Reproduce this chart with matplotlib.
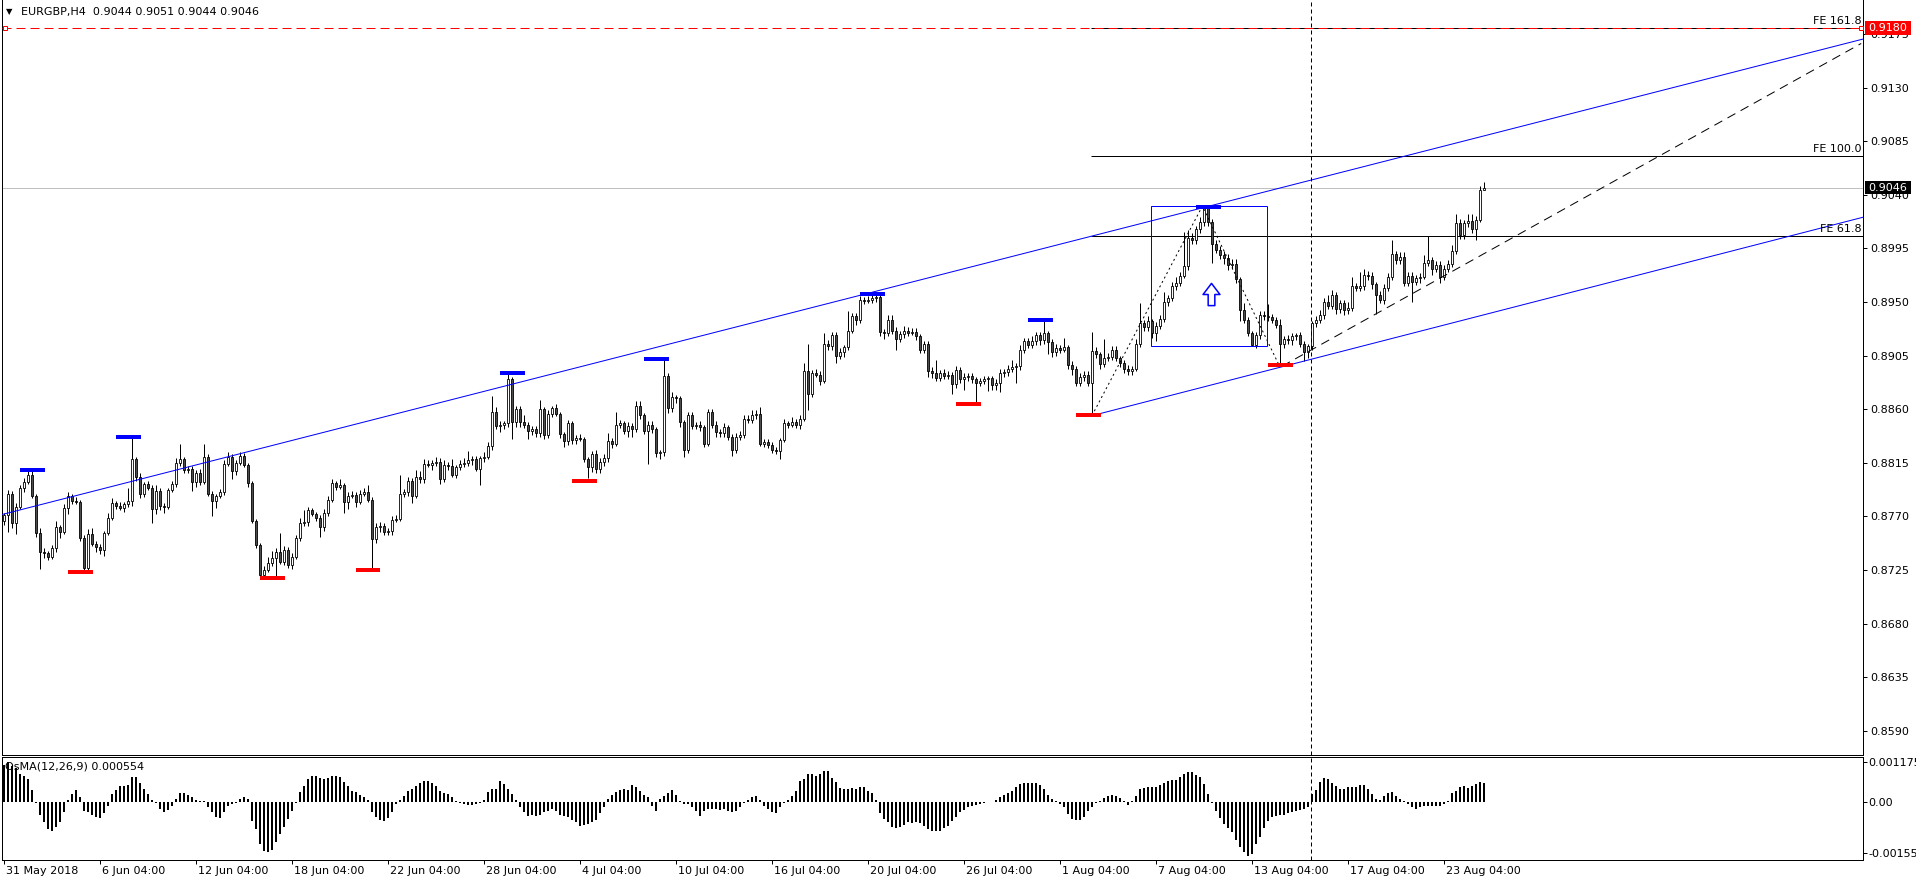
import matplotlib
matplotlib.use("Agg")
import matplotlib.pyplot as plt
import matplotlib.transforms as mtransforms
from matplotlib.patches import Rectangle
from matplotlib.path import Path
import numpy as np

plt.rcParams['font.family'] = ['DejaVu Sans']
plt.rcParams['font.size'] = 8
plt.rcParams['lines.scale_dashes'] = False

W, H = 1916, 884
PX = 0.72  # one pixel in points at dpi 100

########################
# Data (EURGBP H4, closes in 1/10000)
########################
closes = [
    8771, 8789, 8764, 8778, 8794, 8799, 8805, 8787, 8756, 8740,
    8739, 8736, 8743, 8761, 8757, 8777, 8787, 8783, 8782, 8752,
    8727, 8755, 8747, 8744, 8742, 8756, 8769, 8781, 8779, 8777,
    8780, 8783, 8818, 8803, 8789, 8797, 8794, 8776, 8791, 8779,
    8778, 8792, 8797, 8815, 8818, 8809, 8810, 8799, 8806, 8799,
    8820, 8789, 8783, 8787, 8790, 8814, 8820, 8808, 8815, 8821,
    8813, 8798, 8766, 8746, 8721, 8725, 8731, 8735, 8740, 8732,
    8742, 8729, 8736, 8752, 8764, 8765, 8775, 8772, 8769, 8761,
    8773, 8784, 8798, 8795, 8796, 8782, 8787, 8788, 8782, 8789,
    8790, 8784, 8751, 8761, 8762, 8757, 8758, 8767, 8768, 8789,
    8790, 8800, 8787, 8803, 8801, 8814, 8813, 8815, 8816, 8801,
    8813, 8812, 8805, 8811, 8814, 8815, 8817, 8818, 8810, 8819,
    8820, 8829, 8858, 8846, 8847, 8848, 8885, 8849, 8860, 8849,
    8847, 8842, 8843, 8840, 8860, 8838, 8856, 8861, 8856, 8839,
    8833, 8848, 8834, 8836, 8835, 8818, 8811, 8822, 8810, 8816,
    8819, 8833, 8831, 8847, 8848, 8842, 8846, 8843, 8863, 8855,
    8842, 8847, 8843, 8823, 8824, 8888, 8861, 8870, 8869, 8849,
    8826, 8855, 8846, 8847, 8845, 8831, 8858, 8847, 8841, 8840,
    8845, 8837, 8826, 8837, 8838, 8852, 8851, 8855, 8856, 8831,
    8832, 8830, 8826, 8825, 8834, 8848, 8847, 8849, 8847, 8852,
    8892, 8873, 8890, 8889, 8884, 8915, 8913, 8922, 8905, 8908,
    8912, 8926, 8938, 8935, 8952, 8951, 8952, 8953, 8954, 8925,
    8924, 8935, 8926, 8919, 8923, 8926, 8924, 8925, 8921, 8910,
    8915, 8892, 8890, 8886, 8890, 8888, 8889, 8881, 8893, 8885,
    8887, 8888, 8885, 8882, 8884, 8885, 8886, 8880, 8882, 8890,
    8891, 8894, 8895, 8896, 8910, 8917, 8914, 8917, 8922, 8918,
    8924, 8916, 8908, 8911, 8910, 8912, 8897, 8894, 8882, 8887,
    8889, 8882, 8909, 8906, 8898, 8903, 8904, 8910, 8903, 8899,
    8894, 8892, 8894, 8915, 8932, 8929, 8934, 8924, 8930, 8936,
    8950, 8953, 8963, 8966, 8972, 8980, 9004, 9002, 9011, 9017,
    9029, 9017, 8999, 8994, 8989, 8987, 8981, 8982, 8969, 8943,
    8935, 8924, 8914, 8922, 8939, 8938, 8937, 8935, 8931, 8915,
    8919, 8918, 8921, 8922, 8915, 8908, 8913, 8932, 8935, 8939,
    8950, 8947, 8956, 8944, 8949, 8943, 8945, 8963, 8962, 8963,
    8973, 8972, 8965, 8956, 8952, 8962, 8971, 8990, 8985, 8988,
    8966, 8972, 8967, 8970, 8971, 8983, 8985, 8978, 8981, 8971,
    8978, 8982, 8993, 9016, 9006, 9016, 9018, 9011, 9019, 9044,
    9046,
]
first_open = 8766

# wick lengths above / below the body, in pips
upper_wick = [
    2, 3, 2, 3, 2, 3, 3, 4, 2, 4,
    3, 2, 3, 5, 2, 3, 3, 2, 3, 2,
    2, 4, 5, 2, 3, 2, 4, 4, 2, 3,
    2, 11, 18, 2, 3, 2, 3, 2, 5, 3,
    2, 2, 3, 4, 13, 2, 2, 2, 3, 4,
    11, 2, 2, 2, 3, 3, 4, 2, 2, 3,
    2, 2, 2, 2, 2, 3, 5, 6, 3, 16,
    3, 2, 3, 2, 5, 10, 3, 2, 2, 2,
    3, 3, 3, 2, 5, 2, 3, 3, 2, 3,
    4, 6, 2, 3, 3, 2, 2, 3, 3, 16,
    3, 3, 2, 6, 5, 4, 3, 2, 4, 3,
    4, 3, 6, 2, 3, 4, 8, 3, 3, 2,
    4, 3, 13, 4, 3, 2, 5, 2, 3, 3,
    6, 2, 3, 3, 8, 2, 3, 2, 3, 2,
    2, 3, 2, 2, 3, 2, 2, 3, 4, 3,
    3, 7, 3, 11, 3, 2, 3, 2, 4, 4,
    2, 3, 3, 2, 2, 13, 2, 4, 2, 2,
    2, 3, 3, 2, 3, 2, 2, 2, 3, 2,
    3, 2, 2, 3, 4, 3, 3, 4, 3, 6,
    3, 3, 2, 2, 2, 4, 2, 4, 3, 3,
    7, 23, 3, 4, 3, 9, 3, 3, 3, 3,
    2, 16, 3, 3, 3, 2, 3, 3, 3, 2,
    2, 4, 4, 3, 3, 4, 3, 3, 3, 2,
    2, 2, 3, 11, 3, 4, 3, 2, 3, 2,
    3, 2, 2, 2, 2, 3, 2, 2, 3, 4,
    3, 3, 6, 3, 4, 3, 3, 4, 3, 3,
    12, 2, 3, 4, 3, 8, 2, 3, 2, 3,
    3, 3, 16, 3, 2, 16, 3, 3, 3, 2,
    2, 3, 2, 4, 17, 3, 4, 2, 3, 3,
    8, 3, 4, 5, 3, 29, 6, 4, 3, 4,
    1, 2, 3, 3, 3, 4, 3, 4, 4, 2,
    6, 2, 2, 3, 3, 3, 10, 3, 2, 5,
    2, 3, 3, 2, 3, 2, 2, 2, 3, 4,
    3, 6, 4, 2, 3, 3, 5, 8, 3, 12,
    5, 3, 3, 2, 3, 3, 3, 12, 3, 4,
    4, 3, 3, 3, 3, 6, 20, 3, 3, 3,
    3, 3, 5, 8, 4, 3, 6, 6, 3, 3,
    5,
]
lower_wick = [
    3, 14, 4, 9, 2, 4, 2, 2, 3, 14,
    4, 3, 2, 3, 5, 2, 5, 3, 2, 3,
    2, 2, 2, 4, 4, 5, 2, 2, 3, 2,
    3, 2, 4, 3, 4, 3, 2, 12, 4, 4,
    5, 2, 2, 2, 3, 3, 3, 8, 4, 3,
    2, 2, 13, 6, 2, 2, 2, 7, 3, 2,
    2, 3, 2, 3, 2, 3, 2, 3, 15, 2,
    3, 2, 3, 2, 3, 2, 3, 2, 3, 8,
    3, 3, 2, 3, 2, 9, 6, 2, 4, 2,
    2, 2, 25, 3, 4, 3, 3, 4, 2, 2,
    3, 3, 6, 2, 3, 3, 2, 4, 3, 4,
    2, 3, 2, 3, 2, 3, 3, 4, 2, 14,
    3, 2, 3, 3, 5, 4, 3, 14, 4, 4,
    3, 7, 4, 3, 3, 3, 2, 3, 2, 3,
    5, 3, 3, 3, 2, 2, 9, 4, 4, 4,
    4, 3, 4, 2, 3, 3, 5, 6, 2, 3,
    3, 28, 3, 3, 5, 3, 4, 3, 4, 4,
    6, 3, 3, 3, 3, 3, 2, 3, 4, 3,
    3, 3, 5, 3, 3, 2, 3, 3, 3, 2,
    3, 3, 3, 3, 7, 2, 3, 2, 3, 4,
    2, 14, 3, 2, 4, 2, 3, 3, 6, 3,
    4, 2, 2, 4, 3, 3, 2, 3, 3, 4,
    5, 3, 3, 9, 3, 3, 3, 2, 3, 3,
    3, 5, 4, 2, 2, 3, 3, 8, 3, 3,
    9, 3, 3, 18, 3, 3, 10, 4, 4, 8,
    3, 3, 3, 13, 3, 3, 3, 3, 3, 4,
    3, 10, 4, 3, 3, 2, 3, 5, 3, 3,
    3, 3, 27, 3, 4, 3, 3, 3, 3, 4,
    4, 3, 3, 2, 3, 3, 3, 4, 7, 3,
    3, 3, 2, 3, 3, 2, 3, 3, 3, 3,
    3, 3, 16, 3, 3, 5, 4, 3, 3, 9,
    3, 3, 1, 3, 3, 3, 3, 3, 3, 18,
    4, 3, 4, 3, 3, 8, 5, 3, 3, 3,
    3, 3, 3, 4, 3, 4, 3, 3, 3, 3,
    3, 4, 4, 16, 3, 4, 3, 3, 3, 3,
    3, 3, 17, 3, 4, 2, 3, 5, 3, 5,
    3, 3, 3, 3, 3, 3, 3, 3, 9, 2,
    0,
]

# OsMA(12,26,9) histogram, in units of 1e-5
osma = [
    110, 118, 108, 100, 83, 78, 68, 35, -5, -40,
    -62, -82, -89, -77, -62, -32, 5, 23, 35, 15,
    -27, -32, -39, -45, -49, -35, -12, 23, 35, 48,
    48, 51, 75, 73, 55, 38, 23, 5, -5, -22,
    -32, -25, -12, 8, 25, 25, 20, 13, 5, 3,
    3, -17, -32, -47, -49, -32, -12, -7, -5, 8,
    15, 8, -57, -82, -127, -149, -150, -145, -122, -97,
    -75, -52, -29, -3, 28, 48, 68, 78, 78, 71,
    68, 71, 78, 78, 75, 58, 48, 33, 28, 21,
    15, 5, -32, -47, -55, -57, -49, -32, -7, 5,
    18, 31, 38, 48, 55, 61, 63, 55, 48, 33,
    25, 23, 13, 3, -3, -7, -9, -10, -8, -5,
    5, 28, 38, 38, 63, 53, 38, 23, 5, -17,
    -32, -42, -39, -42, -39, -32, -27, -22, -29, -39,
    -42, -45, -55, -62, -72, -69, -67, -62, -55, -35,
    -17, 8, 21, 28, 35, 38, 35, 51, 43, 33,
    21, 13, -12, -29, 8, 18, 25, 35, 21, 1,
    -7, -7, -15, -27, -42, -27, -22, -22, -22, -25,
    -22, -29, -32, -27, -17, -5, 5, 15, 18, 5,
    -12, -22, -32, -35, -17, -3, 5, 18, 31, 63,
    68, 83, 83, 78, 83, 91, 91, 71, 58, 41,
    38, 38, 41, 38, 43, 43, 33, 26, 5, -35,
    -52, -62, -75, -79, -75, -69, -62, -65, -62, -65,
    -72, -82, -89, -89, -87, -79, -72, -57, -45, -32,
    -25, -17, -13, -10, -7, -3, -2, -1, 5, 15,
    21, 25, 31, 43, 53, 55, 57, 57, 55, 50,
    38, 20, 8, 3, -7, -17, -37, -52, -55, -55,
    -45, -29, -15, -3, 3, 11, 18, 21, 18, 11,
    3, -9, 3, 18, 38, 41, 43, 45, 45, 50,
    55, 61, 65, 65, 73, 83, 88, 88, 80, 75,
    53, 23, -3, -27, -49, -67, -79, -92, -115, -137,
    -152, -162, -157, -127, -105, -79, -57, -45, -42, -39,
    -39, -35, -32, -29, -25, -22, -15, 23, 35, 58,
    71, 68, 55, 48, 38, 38, 43, 43, 45, 51,
    51, 38, 23, 8, 5, 18, 25, 30, 18, 8,
    3, -7, -17, -22, -17, -13, -12, -12, -13, -13,
    -7, 3, 25, 33, 43, 48, 41, 48, 53, 58,
    55,
]

date_labels = ['31 May 2018', '6 Jun 04:00', '12 Jun 04:00', '18 Jun 04:00',
               '22 Jun 04:00', '28 Jun 04:00', '4 Jul 04:00', '10 Jul 04:00',
               '16 Jul 04:00', '20 Jul 04:00', '26 Jul 04:00', '1 Aug 04:00',
               '7 Aug 04:00', '13 Aug 04:00', '17 Aug 04:00', '23 Aug 04:00']
date_bars = [0, 24, 48, 72, 96, 120, 144, 168, 192, 216, 240, 264, 288, 312, 336, 360]

price_ticks = [0.8590, 0.8635, 0.8680, 0.8725, 0.8770, 0.8815, 0.8860,
               0.8905, 0.8950, 0.8995, 0.9040, 0.9085, 0.9130, 0.9175]

# swing markers (bar, price)
high_marks = [(7.1, 0.8809), (31.1, 0.8837), (127.1, 0.8890), (163.1, 0.8902),
              (217.1, 0.8957), (259.1, 0.8935), (301.1, 0.9030)]
low_marks = [(19.1, 0.8723), (67.1, 0.8718), (91.0, 0.8725), (145.1, 0.8800),
             (241.1, 0.8864), (271.1, 0.8855), (319.1, 0.8897)]

# fibo expansion points and levels
fe_points_x = [272.0, 299.6, 318.75]
fe_points_y = [0.88546, 0.90305, 0.8897]
fe_levels = [0.9180, 0.90725, 0.90053]
fe_names = ['FE 161.8', 'FE 100.0', 'FE 61.8']

bid = 0.9046
alert = 0.9180

########################
# Figure layout
########################
closes = np.array(closes) / 10000.0
opens = np.concatenate([[first_open / 10000.0], closes[:-1]])
highs = np.maximum(opens, closes) + np.array(upper_wick) / 10000.0
lows = np.minimum(opens, closes) - np.array(lower_wick) / 10000.0
bars = np.arange(len(closes))
osma = np.array(osma) * 1e-5

fig = plt.figure(figsize=(W / 100, H / 100), dpi=100)
fig.patch.set_facecolor('white')
ax = fig.add_axes([2 / W, 1 - 755 / H, 1861 / W, 755 / H])
ax2 = fig.add_axes([2 / W, 1 - 860 / H, 1861 / W, 103 / H])

XMIN, XMAX = -0.5, 464.75
for a in (ax, ax2):
    a.set_xlim(XMIN, XMAX)
    for s in a.spines.values():
        s.set_linewidth(PX)
ax.spines['top'].set_visible(False)
ax.set_ylim(0.85696, 0.92035)
ax2.set_ylim(-0.001755, 0.001335)

########################
# Candles
########################
ax.vlines(bars, lows, highs, color='black', lw=PX, zorder=2)
bull = closes >= opens
ax.bar(bars[bull], (closes - opens)[bull], bottom=opens[bull], width=0.55,
       facecolor='white', edgecolor='black', lw=0.6, zorder=3)
ax.bar(bars[~bull], (opens - closes)[~bull], bottom=closes[~bull], width=0.55,
       facecolor='#4d4d4d', edgecolor='black', lw=0.6, zorder=3)

# bid line and alert line
ax.axhline(bid, color='#c0c0c0', lw=PX, zorder=0.5)
ax.hlines(fe_levels, fe_points_x[0] - 0.25, XMAX, colors='black', lw=PX, zorder=1.5)
ax.axhline(alert, color='#ff0000', lw=PX, dashes=(9 * PX, 5 * PX), zorder=4)
ax.plot([0.33, 464.25], [alert, alert], 's', ms=3.2, mfc='white', mec='#ff0000',
        mew=PX, zorder=5, clip_on=False)
for lvl, name in zip(fe_levels, fe_names):
    ax.text(464.4, lvl + 2 / 11911, name, ha='right', va='bottom', fontsize=8, zorder=5)

# channel
ax.plot([XMIN, XMAX], [0.87715, 0.91707], color='#0000ff', lw=PX, zorder=4)
ax.plot([272.0, XMAX], [0.88545, 0.90211], color='#0000ff', lw=PX, zorder=4)
ax.plot([319.5, 464.3], [0.8896, 0.9167], color='black', lw=PX,
        dashes=(9 * PX, 6 * PX), zorder=4)
ax.plot(fe_points_x, fe_points_y, color='black', lw=PX, dashes=(2 * PX, 3 * PX), zorder=4)

# box and arrow
ax.add_patch(Rectangle((286.75, 0.89130), 29.05, 0.01175, fill=False,
                       ec='#0000ff', lw=PX, zorder=4))
arrow = Path([(0, 1), (0.76, 0.0), (0.3, 0.0), (0.3, -1), (-0.3, -1),
              (-0.3, 0.0), (-0.76, 0.0), (0, 1)], closed=True)
ax.plot([301.75], [0.89568], marker=arrow, ms=16, mfc='white', mec='#0000ff',
        mew=1.1, zorder=6)

# swing markers
for c, p in high_marks:
    ax.hlines(p, c - 3.1, c + 3.1, colors='#0000ff', lw=4 * PX, zorder=5)
for c, p in low_marks:
    ax.hlines(p, c - 3.1, c + 3.1, colors='#ff0000', lw=4 * PX, zorder=5)

# vertical dashed line
for a in (ax, ax2):
    a.axvline(326.75, color='black', lw=PX, dashes=(4 * PX, 3 * PX), zorder=6)

########################
# Price axis
########################
ax.yaxis.tick_right()
ax.set_yticks(price_ticks)
ax.set_yticklabels(['%.4f' % p for p in price_ticks])
ax.tick_params(axis='y', direction='out', length=3, width=PX, pad=2, labelsize=8)
ax.set_xticks([])

blend = mtransforms.blended_transform_factory(fig.transFigure, ax.transData)
box_h = 13.5 / 11911
for p, col in [(alert, '#ff0000'), (bid, 'black')]:
    ax.add_patch(Rectangle((1865 / W, p - box_h / 2), 46 / W, box_h, transform=blend,
                           facecolor=col, edgecolor='none', clip_on=False, zorder=7))
    ax.text(1888 / W, p, '%.4f' % p, transform=blend, color='white', ha='center',
            va='center', fontsize=8, clip_on=False, zorder=8)

fig.text(6 / W, 1 - 12 / H, '\u25bc', fontsize=6, va='center')
fig.text(21 / W, 1 - 12 / H, 'EURGBP,H4  0.9044 0.9051 0.9044 0.9046', fontsize=8,
         va='center')

########################
# OsMA panel
########################
ax2.bar(bars, osma, width=0.5, color='black', lw=0, zorder=2)
ax2.text(3 / 1861, 0.905, 'OsMA(12,26,9) 0.000554', transform=ax2.transAxes,
         fontsize=8, va='center', zorder=3)
ax2.yaxis.tick_right()
ax2.set_yticks([0.001175, 0.0, -0.00155])
ax2.set_yticklabels(['0.001175', '0.00', '-0.00155'])
ax2.tick_params(axis='y', direction='out', length=3, width=PX, pad=1, labelsize=8)
ax2.set_xticks(date_bars)
ax2.set_xticklabels(date_labels, ha='left')
ax2.tick_params(axis='x', direction='out', length=3, width=PX, pad=1.5, labelsize=8)
shift = mtransforms.ScaledTranslation(2 / 100, 0, fig.dpi_scale_trans)
for lab in ax2.get_xticklabels():
    lab.set_transform(lab.get_transform() + shift)

fig.savefig('out.png', dpi=100)
